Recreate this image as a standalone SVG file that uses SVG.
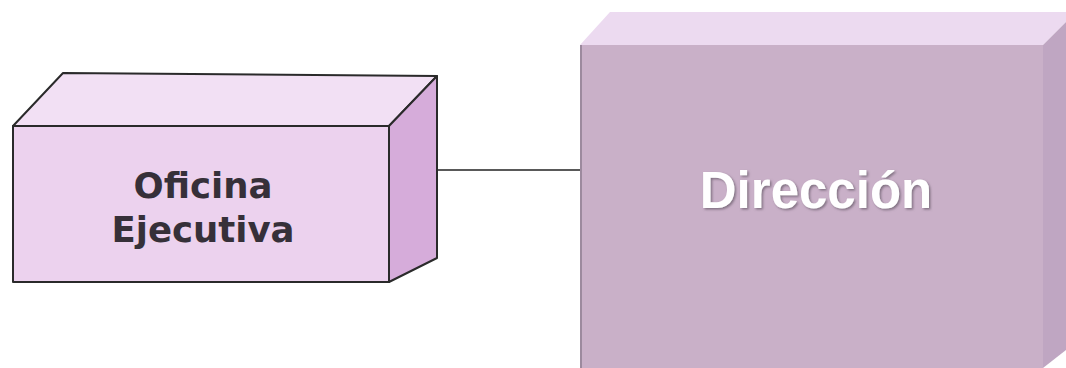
<svg xmlns="http://www.w3.org/2000/svg" width="1066" height="368" viewBox="0 0 1066 368">
<style>
.edge{stroke:#2a2a2a;stroke-width:2;stroke-linejoin:round}
.lbl1{font-family:"DejaVu Sans",Verdana,sans-serif;font-weight:bold;font-size:35.5px;fill:#363039;text-anchor:middle}
.lbl2{font-family:"Liberation Sans",Arial,sans-serif;font-weight:bold;font-size:51px;text-anchor:middle}
</style>
<defs>
<filter id="sh" x="-10%" y="-20%" width="130%" height="150%">
<feDropShadow dx="1.5" dy="1.5" stdDeviation="0.8" flood-color="#6e6070" flood-opacity="0.8"/>
</filter>
</defs>
<rect width="1066" height="368" fill="#ffffff"/>
<g id="connectors">
<line x1="438" y1="170" x2="581" y2="170" stroke="#222" stroke-width="1.5"/>
</g>
<g id="oficina">
<polygon class="edge" points="13,126 63,73 437,76 389,126" fill="#f2e0f4"/>
<polygon class="edge" points="389,126 437,76 437,258 389,282" fill="#d6acda"/>
<rect class="edge" x="13" y="126" width="376" height="156" fill="#ecd2ee"/>
<text class="lbl1" x="203" y="198">Oficina</text>
<text class="lbl1" x="203" y="242">Ejecutiva</text>
</g>
<g id="direccion">
<polygon points="580,45 610,12 1066,12 1066,22 1043,45" fill="#ecdaf0"/>
<polygon points="1043,45 1066,22 1066,350 1043,368" fill="#bfa6c2"/>
<rect x="580" y="45" width="463" height="323" fill="#c9b0c8"/>
<line x1="581" y1="45" x2="581" y2="368" stroke="#9c8a9e" stroke-width="2"/>
<text class="lbl2" x="816" y="208" fill="#ffffff" filter="url(#sh)">Dirección</text>
</g>
</svg>
